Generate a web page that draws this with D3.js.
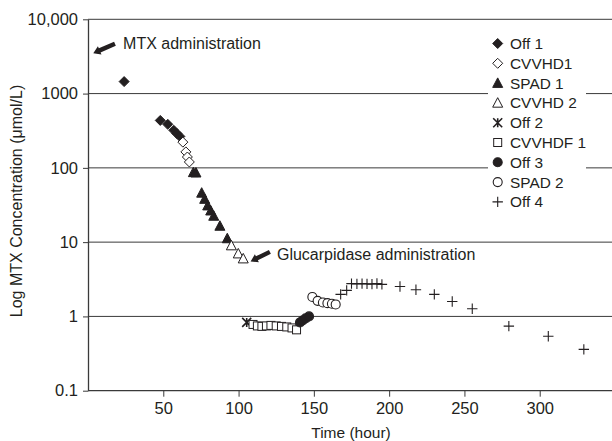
<!DOCTYPE html>
<html>
<head>
<meta charset="utf-8">
<script src="https://cdn.jsdelivr.net/npm/d3@7"></script>
<style>
  html, body { margin: 0; padding: 0; background: #fff; }
  svg { display: block; font-family: "Liberation Sans", Arial, Helvetica, sans-serif; }
</style>
</head>
<body>
<svg id="chart" width="612" height="441"></svg>
<script>
// ---------- data (time in hours, MTX concentration in µmol/L) ----------
const off1    = [[24,1450],[48,435],[53,385],[57,320],[59,290],[61,265]];
const cvvhd1  = [[63,222],[65,164],[66,140],[67.3,120]];
const spad1   = [[70,87],[71.7,86],[75.5,46],[77.5,38],[79.5,31],[81.5,26.5],[83.5,22.5],[87.6,16.5],[92.5,11.2]];
const cvvhd2  = [[95.2,9.0],[99.8,7.0],[103.1,6.0]];
const off2    = [[105.4,0.83]];
const cvvhdf1 = [[109.6,0.78],[112.5,0.745],[115.5,0.735],[118.5,0.745],[121.5,0.757],[125,0.745],[128.5,0.734],[132,0.722],[135.5,0.70],[138.5,0.66]];
const off3    = [[140.8,0.83],[142.5,0.88],[144.5,0.94],[146.8,1.0]];
const spad2   = [[149,1.83],[152.5,1.62],[156,1.54],[159,1.51],[162,1.48],[164.5,1.45]];
const off4    = [[167.8,1.98],[171.8,2.24],[175,2.76],[178.6,2.74],[182,2.76],[185.3,2.74],[188.6,2.72],[191.9,2.78],[195.2,2.7],
                 [207.2,2.53],[217.8,2.29],[230,1.98],[241.9,1.59],[255.2,1.27],[279.5,0.74],[305.7,0.54],[329.3,0.36]];

const seriesNames = ["Off 1","CVVHD1","SPAD 1","CVVHD 2","Off 2","CVVHDF 1","Off 3","SPAD 2","Off 4"];
const seriesShapes = ["diamondFill","diamondOpen","triFill","triOpen","star","squareOpen","circleFill","circleOpen","plus"];
const seriesData = [off1, cvvhd1, spad1, cvvhd2, off2, cvvhdf1, off3, spad2, off4];

const xTicks = [50,100,150,200,250,300];
const yTicks = [0.1,1,10,100,1000,10000];
const yTickLabels = ["0.1","1","10","100","1000","10,000"];

const annotations = [
  {text:"MTX administration", t:23.3, v:4700, arrowFrom:[17.9,4680], arrowTo:[3.5,3500]},
  {text:"Glucarpidase administration", t:125.5, v:6.9, arrowFrom:[120.8,7.4], arrowTo:[108,5.5]}
];

// ---------- layout ----------
const svg = d3.select("#chart");
const ink = "#231f20";
const gridCol = "#3a3a3a";
const x = d3.scaleLinear().domain([0,350]).range([88,615]);
const y = d3.scaleLog().domain([0.1,10000]).range([390.7,19.3]);

// gridlines
svg.append("g").selectAll("line").data(yTicks.slice(1)).join("line")
  .attr("x1", 88).attr("x2", 612)
  .attr("y1", d => y(d)).attr("y2", d => y(d))
  .attr("stroke", gridCol).attr("stroke-width", 1);

// axes
const xAxis = d3.axisBottom(x).tickValues(xTicks).tickSize(6).tickSizeOuter(0).tickPadding(6);
const gx = svg.append("g").attr("transform", `translate(0,${y(0.1)})`).call(xAxis);
gx.select(".domain").attr("stroke", gridCol).attr("stroke-width", 1.3).attr("d", `M88,0H612`);
gx.selectAll(".tick line").attr("stroke", gridCol).attr("stroke-width", 1);
gx.selectAll(".tick text").attr("fill", ink).attr("font-size", 16.5).attr("font-family", "Liberation Sans, Arial, sans-serif");

const yAxis = d3.axisLeft(y).tickValues(yTicks).tickFormat((d,i) => yTickLabels[i]).tickSize(5).tickSizeOuter(0).tickPadding(5);
const gy = svg.append("g").attr("transform", `translate(88,0)`).call(yAxis);
gy.select(".domain").attr("stroke", gridCol).attr("stroke-width", 1.3);
gy.selectAll(".tick line").attr("stroke", gridCol).attr("stroke-width", 1);
gy.selectAll(".tick text").attr("fill", ink).attr("font-size", 16.5).attr("font-family", "Liberation Sans, Arial, sans-serif");

// axis titles
svg.append("text").attr("x", 351).attr("y", 438).attr("text-anchor", "middle")
  .attr("font-size", 15.5).attr("fill", ink).text("Time (hour)");
svg.append("text").attr("transform", "translate(22,201) rotate(-90)").attr("text-anchor", "middle")
  .attr("font-size", 16).attr("fill", ink).text("Log MTX Concentration (μmol/L)");

// ---------- marker shapes ----------
function drawShape(g, shape, cx, cy) {
  const s = 5;
  switch (shape) {
    case "diamondFill":
    case "diamondOpen":
      g.append("path").attr("d", `M${cx},${cy-s}L${cx+s},${cy}L${cx},${cy+s}L${cx-s},${cy}Z`)
        .attr("fill", shape === "diamondFill" ? ink : "#fff").attr("stroke", ink).attr("stroke-width", 1);
      break;
    case "triFill":
    case "triOpen": {
      const h = 9.5, w = 10;
      g.append("path").attr("d", `M${cx},${cy-h*0.55}L${cx+w/2},${cy+h*0.45}L${cx-w/2},${cy+h*0.45}Z`)
        .attr("fill", shape === "triFill" ? ink : "#fff").attr("stroke", ink).attr("stroke-width", 1);
      break;
    }
    case "squareOpen":
      g.append("rect").attr("x", cx-4).attr("y", cy-4).attr("width", 8).attr("height", 8)
        .attr("fill", "#fff").attr("stroke", ink).attr("stroke-width", 1);
      break;
    case "circleFill":
    case "circleOpen":
      g.append("circle").attr("cx", cx).attr("cy", cy).attr("r", 4.5)
        .attr("fill", shape === "circleFill" ? ink : "#fff").attr("stroke", ink).attr("stroke-width", 1.1);
      break;
    case "star": {
      const r = 4.5;
      g.append("path").attr("d", `M${cx-r},${cy-r}L${cx+r},${cy+r}M${cx-r},${cy+r}L${cx+r},${cy-r}M${cx},${cy-r}L${cx},${cy+r}`)
        .attr("fill", "none").attr("stroke", ink).attr("stroke-width", 1.6);
      break;
    }
    case "plus": {
      const r = 5.2;
      g.append("path").attr("d", `M${cx-r},${cy}L${cx+r},${cy}M${cx},${cy-r}L${cx},${cy+r}`)
        .attr("fill", "none").attr("stroke", ink).attr("stroke-width", 1.1);
      break;
    }
  }
}

// data points
seriesData.forEach((data, i) => {
  const g = svg.append("g").attr("class", "series");
  data.forEach(d => drawShape(g, seriesShapes[i], x(d[0]), y(d[1])));
});

// ---------- annotations ----------
function arrow(x1, y1, x2, y2) {
  const dx = x2 - x1, dy = y2 - y1, L = Math.hypot(dx, dy);
  const ux = dx / L, uy = dy / L, px = -uy, py = ux;
  const sw = 2.2, hl = 7, hw = 4.5;
  const bx = x2 - ux*hl, by = y2 - uy*hl;
  const pts = [
    [x1 + px*sw, y1 + py*sw], [bx + px*sw, by + py*sw], [bx + px*hw, by + py*hw],
    [x2, y2], [bx - px*hw, by - py*hw], [bx - px*sw, by - py*sw], [x1 - px*sw, y1 - py*sw]
  ];
  svg.append("path").attr("d", "M" + pts.map(p => p.join(",")).join("L") + "Z").attr("fill", ink);
}
annotations.forEach(a => {
  arrow(x(a.arrowFrom[0]), y(a.arrowFrom[1]), x(a.arrowTo[0]), y(a.arrowTo[1]));
  svg.append("text").attr("x", x(a.t)).attr("y", y(a.v)).attr("dy", "0.35em")
    .attr("font-size", 16).attr("fill", ink).text(a.text);
});

// ---------- legend ----------
const lg = svg.append("g");
lg.append("rect").attr("x", 488).attr("y", 33).attr("width", 98).attr("height", 180).attr("fill", "#fff");
seriesNames.forEach((name, i) => {
  const cy = 43.5 + i * 19.8;
  drawShape(lg, seriesShapes[i], 497.7, cy);
  lg.append("text").attr("x", 510).attr("y", cy).attr("dy", "0.36em")
    .attr("font-size", 15.4).attr("fill", ink).text(name);
});
</script>
</body>
</html>
